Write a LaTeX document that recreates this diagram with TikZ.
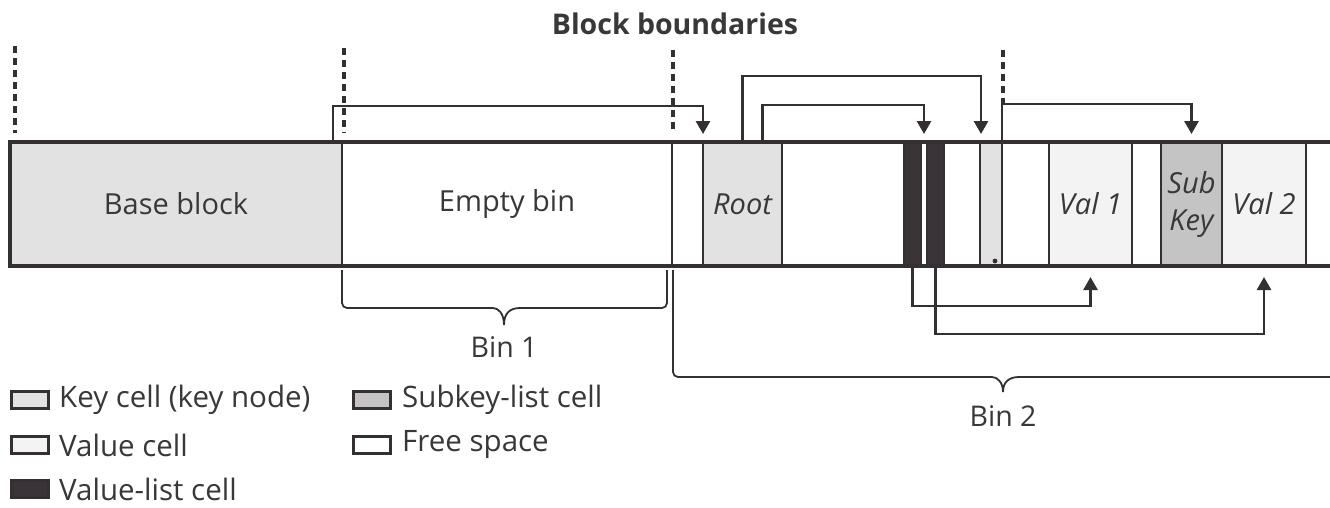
\documentclass[tikz,border=0pt]{standalone}
\usepackage{fontspec}
\setmainfont{Open Sans}
\usetikzlibrary{arrows.meta,calc}
\definecolor{lc}{RGB}{52,48,50}
\definecolor{tc}{RGB}{58,55,58}
\definecolor{keyfill}{RGB}{226,226,226}
\definecolor{valfill}{RGB}{243,243,243}
\definecolor{subfill}{RGB}{196,196,196}
\definecolor{darkfill}{RGB}{58,52,56}
\begin{document}
\begin{tikzpicture}[x=1pt,y=-1pt,
  cell/.style={draw=lc, line width=2.2pt, minimum height=124pt, inner sep=0pt, outer sep=0pt, anchor=west, text=tc, font=\fontsize{29}{38}\selectfont},
  arr/.style={draw=lc, line width=2.8pt, -{Triangle[width=14pt,length=13pt]}},
  bound/.style={draw=lc, line width=4pt, dash pattern=on 7pt off 5pt},
  brace/.style={draw=lc, line width=1.8pt},
  lbox/.style={draw=lc, line width=2.8pt, minimum width=37pt, minimum height=17pt, inner sep=0pt, anchor=west},
  ltext/.style={anchor=west, text=tc, inner sep=0pt, font=\fontsize{29.5}{34}\selectfont},
  blabel/.style={text=tc, inner sep=0pt, font=\fontsize{28.5}{34}\selectfont}
]
\useasboundingbox (0,0) rectangle (1330,507);
\fill[white] (0,0) rectangle (1330,507);

% title
\node[text=tc, font=\bfseries\fontsize{28.5}{34}\selectfont] (title) at (675,24) {Block boundaries};

% cells
\node[cell, minimum width=332pt, fill=keyfill] (base) at (10,204) {Base block};
\node[cell, minimum width=330pt, fill=white] (empty) at (342,204) {Empty bin};
\node[cell, minimum width=31pt, fill=white] (free1) at (672,204) {};
\node[cell, minimum width=79pt, fill=keyfill] (root) at (703,204) {\itshape Root};
\node[cell, minimum width=122pt, fill=white] (free2) at (782,204) {};
\node[cell, minimum width=17pt, fill=darkfill] (vl1) at (904,204) {};
\node[cell, minimum width=6pt, fill=white] (free3) at (921,204) {};
\node[cell, minimum width=17pt, fill=darkfill] (vl2) at (927,204) {};
\node[cell, minimum width=36pt, fill=white] (free4) at (944,204) {};
\node[cell, minimum width=22pt, fill=keyfill] (key2) at (980,204) {};
\node[cell, minimum width=47pt, fill=white] (free5) at (1002,204) {};
\node[cell, minimum width=83pt, fill=valfill] (val1) at (1049,204) {\itshape Val 1};
\node[cell, minimum width=29pt, fill=white] (free6) at (1132,204) {};
\node[cell, minimum width=61pt, fill=subfill, align=center] (subkey) at (1161,204) {\itshape Sub\\[-1pt]\itshape Key};
\node[cell, minimum width=84pt, fill=valfill] (val2) at (1222,204) {\itshape Val 2};
\fill[lc] (995,261) circle (2.4pt);

% outer bar border
\draw[lc, line width=3.5pt] (1330,142) -- (base.north west) -- (base.south west) -- (1330,266);

% block boundaries
\coordinate (b1t) at (15,46);   \coordinate (b1b) at (15,133);
\coordinate (b2t) at (344,48);  \coordinate (b2b) at (344,133);
\coordinate (b3t) at (673,50);  \coordinate (b3b) at (673,133);
\coordinate (b4t) at (1003,50); \coordinate (b4b) at (1003,104);
\draw[bound] (b1t) -- (b1b);
\draw[bound] (b2t) -- (b2b);
\draw[bound] (b3t) -- (b3b);
\draw[bound] (b4t) -- (b4b);

% arrows above
\draw[arr] ($(base.north east)+(-9,0)$) |- ($(root.north west)+(0,-36)$) -- ($(root.north west)+(0,-8)$);
\draw[arr] (root.north) |- ($(key2.north west)+(1,-66)$) -- ($(key2.north west)+(1,-8)$);
\draw[arr] ($(root.north)+(20,0)$) |- ($(free3.north)+(0,-37)$) -- ($(free3.north)+(0,-8)$);
\draw[arr] (key2.north east) |- ($(subkey.north)+(0,-38)$) -- ($(subkey.north)+(0,-8)$);

% arrows below
\draw[arr] (vl1.south) |- ($(val1.south)+(0,40)$) -- ($(val1.south)+(0,11)$);
\draw[arr] (vl2.south) |- ($(val2.south)+(0,68)$) -- ($(val2.south)+(0,11)$);

% brace Bin 1
\draw[brace] ($(empty.south west)+(0,4)$) [rounded corners=5pt] -- (342,308) -- (488,308) [sharp corners]
  .. controls (498,308) and (504,313) .. (504,325)
  .. controls (504,313) and (510,308) .. (520,308) [rounded corners=5pt] -- (667,308) -- (667,270);
\node[blabel] (bin1) at (504,347) {Bin 1};

% brace Bin 2
\draw[brace] ($(free1.south west)+(1,4)$) [rounded corners=5pt] -- (673,377) -- (987,377) [sharp corners]
  .. controls (997,377) and (1003,382) .. (1003,392)
  .. controls (1003,382) and (1009,377) .. (1019,377) -- (1330,377);
\node[blabel] (bin2) at (1003,416) {Bin 2};

% legend
\node[lbox, fill=keyfill] (lk) at (10,400) {};
\node[ltext] (lkt) at (59,400) {Key cell (key node)};
\node[lbox, fill=valfill] (lv) at (10,445) {};
\node[ltext] (lvt) at (59,445) {Value cell};
\node[lbox, fill=darkfill] (lvl) at (10,489) {};
\node[ltext] (lvlt) at (59,489) {Value-list cell};
\node[lbox, fill=subfill] (ls) at (352,400) {};
\node[ltext] (lst) at (402,400) {Subkey-list cell};
\node[lbox, fill=white] (lf) at (352,445) {};
\node[ltext] (lft) at (402,445) {Free space};
\end{tikzpicture}
\end{document}
